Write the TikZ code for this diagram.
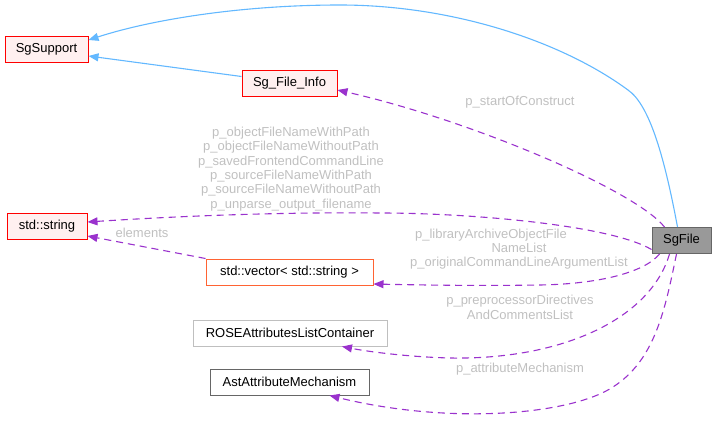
\documentclass[tikz,border=0pt]{standalone}
\usepackage{fontspec}
\setmainfont{Liberation Sans}
\usetikzlibrary{arrows.meta}
\definecolor{inhblue}{HTML}{63B8FF}
\definecolor{usepurple}{HTML}{9A32CD}
\definecolor{lblgrey}{HTML}{C0C0C0}
\definecolor{pinkfill}{HTML}{FFF0F0}
\tikzset{
  cls/.style={draw, line width=1pt, inner sep=0pt, minimum height=26pt, font=\fontsize{13}{14.3}\selectfont, text=black},
  redcls/.style={cls, draw=red, fill=pinkfill},
  inh/.style={draw=inhblue, line width=1.1pt, -{Triangle[length=10pt,width=8pt]}},
  use/.style={draw=usepurple, line width=1.1pt, dash pattern=on 7pt off 5pt, -{Triangle[length=10pt,width=8pt]}},
  lbl/.style={text=lblgrey, font=\fontsize{13}{14.3}\selectfont, align=center, inner sep=0pt},
}
\begin{document}
\begin{tikzpicture}[x=1pt,y=-1pt]
\useasboundingbox (0,0) rectangle (716,423);
\node[redcls, minimum width=83pt] (sgsupport) at (46.5,49.5) {SgSupport};
\node[redcls, minimum width=95pt] (fileinfo) at (289.5,83.5) {Sg\_File\_Info};
\node[redcls, minimum width=80pt] (string) at (47,226) {std::string};
\node[cls, draw={rgb,255:red,255;green,99;blue,51}, fill=white, minimum width=167pt] (vector) at (289.5,272) {std::vector< std::string >};
\node[cls, draw={rgb,255:red,191;green,191;blue,191}, fill=white, minimum width=194pt] (rose) at (290,333) {ROSEAttributesListContainer};
\node[cls, draw={rgb,255:red,102;green,102;blue,102}, fill=white, minimum width=159pt] (ast) at (289.5,382) {AstAttributeMechanism};
\node[cls, draw={rgb,255:red,102;green,102;blue,102}, fill={rgb,255:red,153;green,153;blue,153}, minimum width=59pt] (sgfile) at (681.5,240.5) {SgFile};

% inheritance
\draw[inh] ([xshift=-4pt]sgfile.north) .. controls (665,160) and (650,105) .. (628,90)
  .. controls (560,40) and (450,5) .. (340,5)
  .. controls (240,5) and (150,20) .. ([yshift=-4pt]sgsupport.north east);
\draw[inh] ([yshift=7pt]fileinfo.west) -- ([yshift=-6.5pt]sgsupport.east);

% usage
\draw[use] ([xshift=-17pt]sgfile.north) .. controls (635,190) and (470,120) .. ([yshift=-6.5pt]fileinfo.east);
\draw[use] ([yshift=-9pt]sgfile.west) .. controls (610,225) and (470,213) .. (380,213) .. controls (280,212) and (180,216) .. ([yshift=4pt]string.east);
\draw[use] (vector.north west) -- ([yshift=-10pt]string.east);
\draw[use] ([xshift=-22pt]sgfile.south) .. controls (645,272) and (600,284) .. (540,285) .. controls (480,286) and (420,285) .. ([yshift=-12pt]vector.east);
\draw[use] ([xshift=-12pt]sgfile.south) .. controls (650,320) and (560,360) .. (450,358) .. controls (410,357) and (370,352) .. ([xshift=52pt]rose.south);
\draw[use] ([xshift=-5pt]sgfile.south) .. controls (665,310) and (655,360) .. (613,387) .. controls (570,415) and (450,425) .. ([xshift=40pt]ast.south);

% labels
\node[lbl] (l1) at (520,102) {p\_startOfConstruct};
\node[lbl] (l2) at (291,169) {p\_objectFileNameWithPath\\p\_objectFileNameWithoutPath\\p\_savedFrontendCommandLine\\p\_sourceFileNameWithPath\\p\_sourceFileNameWithoutPath\\p\_unparse\_output\_filename};
\node[lbl] (l3) at (142,233) {elements};
\node[lbl] (l4) at (519,249) {p\_libraryArchiveObjectFile\hspace*{56pt}\\NameList\\p\_originalCommandLineArgumentList};
\node[lbl] (l5) at (520,307.5) {p\_preprocessorDirectives\\AndCommentsList};
\node[lbl] (l6) at (520,369) {p\_attributeMechanism};
\end{tikzpicture}
\end{document}
